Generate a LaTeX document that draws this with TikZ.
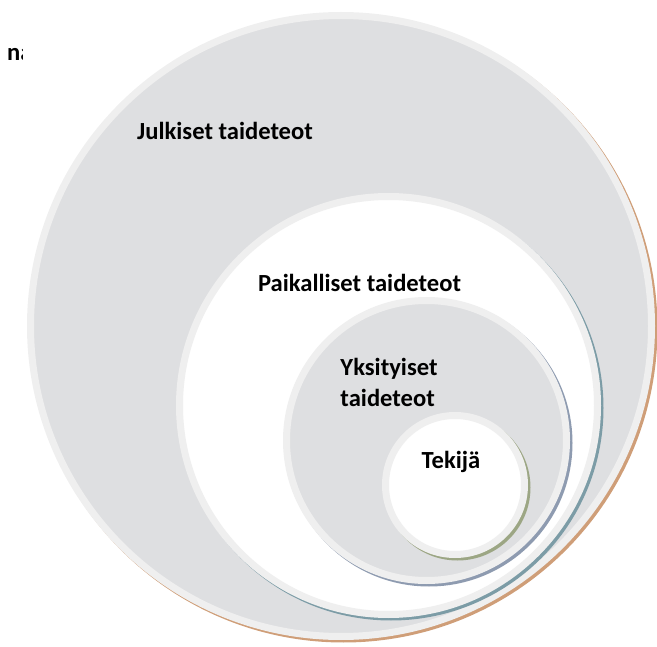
\documentclass[tikz,border=0pt]{standalone}
\usepackage{fontspec}
\setmainfont{Carlito}
\definecolor{discgray}{HTML}{DEDFE1}
\definecolor{ringgray}{HTML}{EFEFEF}
\definecolor{shadeorange}{HTML}{CF9E78}
\definecolor{shadeteal}{HTML}{7C9CA6}
\definecolor{shadeblue}{HTML}{8E9BB0}
\definecolor{shadegreen}{HTML}{9CA684}
\begin{document}
\begin{tikzpicture}[x=1pt,y=-1pt,
  disc/.style={circle, draw=ringgray, line width=7pt, inner sep=0pt, minimum size=#1},
  graydisc/.style={disc=#1, fill=discgray},
  whitedisc/.style={disc=#1, fill=white},
  lbl/.style={font=\bfseries\fontsize{24.6}{31}\selectfont, inner sep=0pt, text=black}
]
\useasboundingbox (0,0) rectangle (657,647);

% outer level
\fill[shadeorange] (343.5,328.5) circle (314);
\node[graydisc=621pt] (julkiset) at (341,326) {};
% second level
\fill[shadeteal] (391,408) circle (212.5);
\node[whitedisc=418pt] (paikalliset) at (388.5,405.5) {};
% third level
\fill[shadeblue] (429,443) circle (143.5);
\node[graydisc=280pt] (yksityiset) at (426.5,440.5) {};
% innermost
\fill[shadegreen] (457.5,487.5) circle (73);
\node[whitedisc=139pt] (tekija) at (455,485) {};

% labels
\node[lbl] (t1) at (225,131) {Julkiset taideteot};
\node[lbl] (t2) at (359.5,283) {Paikalliset taideteot};
\node[lbl, align=left] (t3) at (389,382) {Yksityiset\\taideteot};
\node[lbl] (t4) at (451,462) {Tekijä};

\begin{scope}
  \clip (0,30) rectangle (22,80);
  \node[lbl, anchor=west] (t0) at (7,55) {na};
\end{scope}
\end{tikzpicture}
\end{document}
